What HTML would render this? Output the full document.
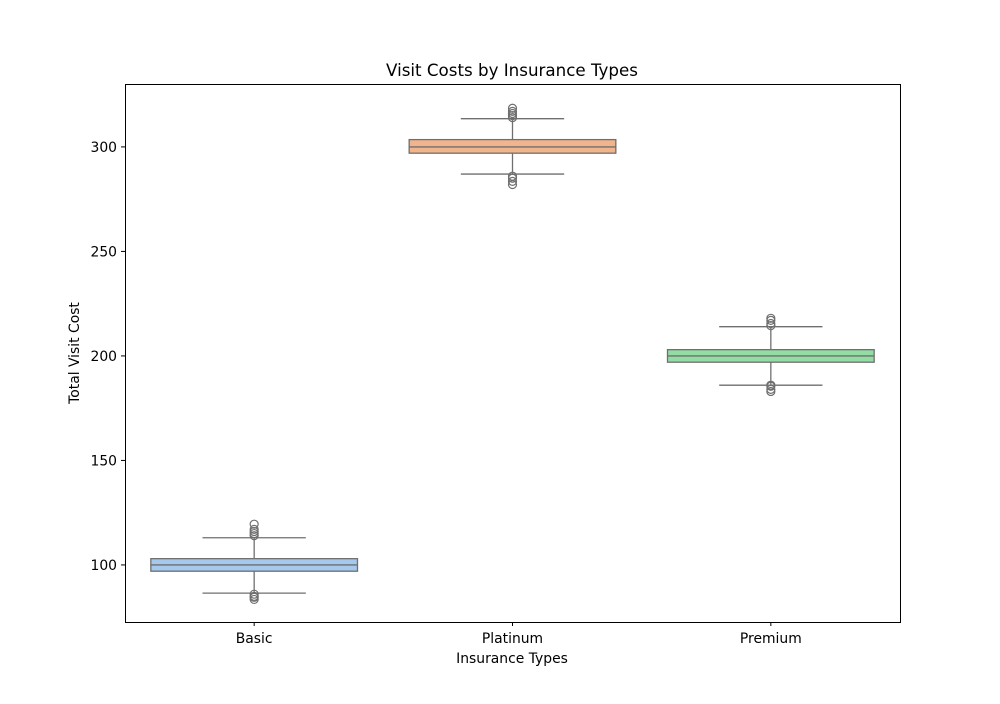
<!DOCTYPE html>
<html><head><meta charset="utf-8"><style>
body{margin:0;background:#fff;font-family:"DejaVu Sans","Liberation Sans",sans-serif}
svg text{font-family:"DejaVu Sans","Liberation Sans",sans-serif;fill:#000}
</style></head><body>
<svg id="chart" width="1000" height="700">
<text x="512" y="76" text-anchor="middle" font-size="16.7">Visit Costs by Insurance Types</text>
<rect x="125.5" y="84.5" width="775" height="538" fill="none" stroke="#000" stroke-width="1"/>
<g id="marks"></g><g id="axes"></g>
<text x="512" y="663" text-anchor="middle" font-size="13.9">Insurance Types</text>
<text transform="translate(79,353) rotate(-90)" text-anchor="middle" font-size="13.9">Total Visit Cost</text>
</svg>
<script>
const categories=["Basic","Platinum","Premium"];
const q1=[97,297,197];
const medians=[100,300,200];
const q3=[103,303.5,203];
const whiskLo=[86.5,287,186];
const whiskHi=[113,313.5,214];
const outliers=[[114,115,116,117,119.5,83.5,84.5,85,86],[314,315,316,317,318.5,282,283.5,285,286],[214.5,215.5,217,218,183,184,185.5,186]];
const colors=["#a5c8ed","#f2b48c","#93dca4"];
const yTicks=[100,150,200,250,300];
const L=125,R=900,T=84,B=622,yMin=72.7,yMax=330.1;
const y=v=>B-(v-yMin)/(yMax-yMin)*(B-T);
const step=(R-L)/categories.length;
const x=i=>L+step*(i+0.5);
const NS="http://www.w3.org/2000/svg";
function mk(tag,attrs,parent){const e=document.createElementNS(NS,tag);for(const k in attrs)e.setAttribute(k,attrs[k]);parent.appendChild(e);return e;}
const g=document.getElementById('marks'),ax=document.getElementById('axes');
const lc="#6f6f6f";
categories.forEach((c,i)=>{
 const cx=x(i),bw=step*0.8,cw=bw/2;
 let w=mk('line',{x1:cx,x2:cx,y1:y(whiskHi[i]),y2:y(q3[i]),stroke:lc,'stroke-width':1.3},g);
 
 
 w=mk('line',{x1:cx,x2:cx,y1:y(q1[i]),y2:y(whiskLo[i]),stroke:lc,'stroke-width':1.3},g);
 
 
 [whiskHi[i],whiskLo[i]].forEach(v=>{const cap=mk('line',{x1:cx-cw/2,x2:cx+cw/2,y1:y(v),y2:y(v),stroke:lc,'stroke-width':1.3},g);
 
 });
 const b=mk('rect',{x:cx-bw/2,y:y(q3[i]),width:bw,height:y(q1[i])-y(q3[i]),fill:colors[i],stroke:lc,'stroke-width':1.3},g);
 
 
 const m=mk('line',{x1:cx-bw/2,x2:cx+bw/2,y1:y(medians[i]),y2:y(medians[i]),stroke:lc,'stroke-width':1.3},g);
 
 
 outliers[i].forEach(v=>{const o=mk('circle',{cx:cx,cy:y(v),r:4,fill:'none',stroke:lc,'stroke-width':1.2},g);
 
 });
 mk('line',{x1:cx,x2:cx,y1:B,y2:B+4,stroke:'#000'},ax);
 const t=mk('text',{x:cx,y:B+21,'text-anchor':'middle','font-size':13.9},ax);t.textContent=c;
 
 
});
yTicks.forEach(v=>{
 mk('line',{x1:L-4,x2:L,y1:y(v),y2:y(v),stroke:'#000'},ax);
 const t=mk('text',{x:L-8,y:y(v)+5,'text-anchor':'end','font-size':13.9},ax);t.textContent=v;
 
 
});
</script>
</body></html>
